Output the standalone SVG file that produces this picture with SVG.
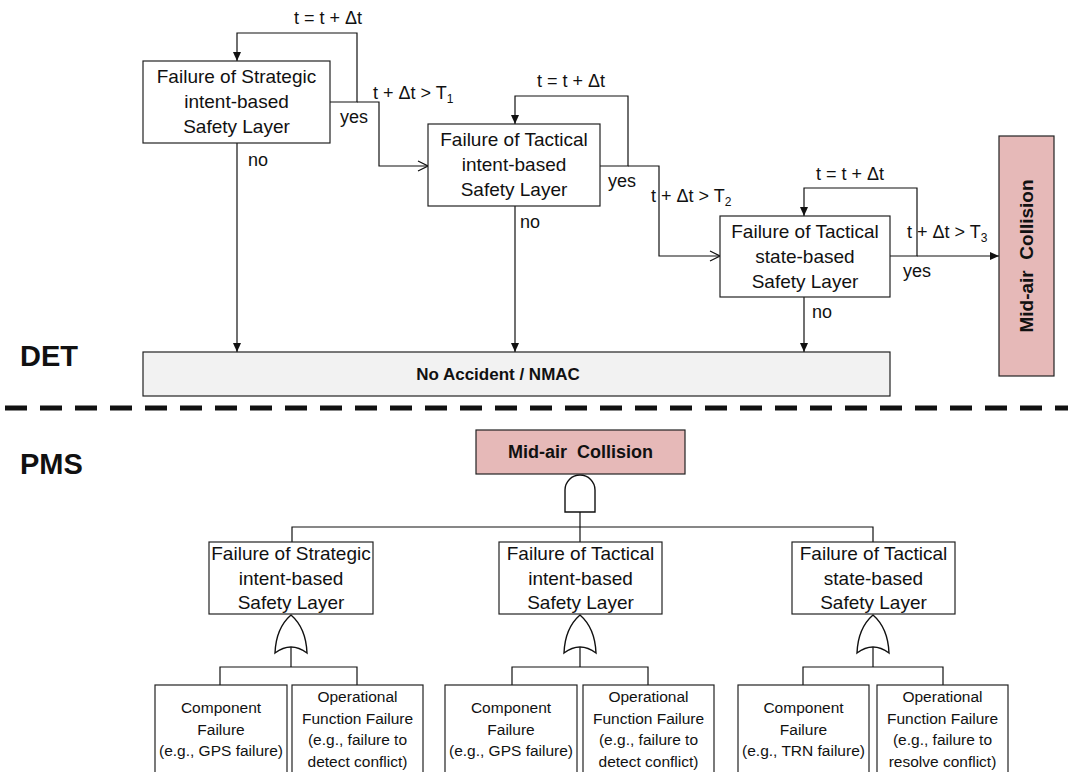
<svg xmlns="http://www.w3.org/2000/svg" width="1068" height="772" viewBox="0 0 1068 772">
  <style>
    .box { fill: #ffffff; stroke: #222; stroke-width: 1.2; }
    .top { fill: #e6b9b8; stroke: #222; stroke-width: 1.2; }
    .end { fill: #f2f2f2; stroke: #222; stroke-width: 1.2; }
    .ln { fill: none; stroke: #111; stroke-width: 1.2; }
    .gate { fill: #ffffff; stroke: #111; stroke-width: 1.4; }
    .t { font-family: "Liberation Sans", Arial, sans-serif; font-size: 19px; fill: #111; text-anchor: middle; }
    .lbl { font-family: "Liberation Sans", Arial, sans-serif; font-size: 18px; fill: #111; }
    .sub { font-size: 12px; }
    .leaf { font-family: "Liberation Sans", Arial, sans-serif; font-size: 15.5px; fill: #111; text-anchor: middle; }
    .b { font-family: "Liberation Sans", Arial, sans-serif; font-weight: bold; fill: #111; white-space: pre; }
  </style>
  <defs>
    <marker id="fill" markerWidth="10" markerHeight="10" refX="9" refY="5" orient="auto" markerUnits="userSpaceOnUse">
      <path d="M0,1 L9,5 L0,9 Z" fill="#111"/>
    </marker>
    <marker id="open" markerWidth="12" markerHeight="12" refX="11" refY="6" orient="auto" markerUnits="userSpaceOnUse">
      <path d="M1,1 L11,6 L1,11" fill="none" stroke="#111" stroke-width="1.2"/>
    </marker>
  </defs>

  <!-- section labels and divider -->
  <text class="b" x="20" y="366" font-size="29">DET</text>
  <text class="b" x="20" y="474" font-size="29">PMS</text>
  <line x1="5" y1="408" x2="1068" y2="408" stroke="#111" stroke-width="5" stroke-dasharray="22 13"/>

  <!-- event tree connectors -->
  <g id="det-connectors">
    <!-- strategic loop -->
    <path class="ln" d="M330,102 H357 V33 H237 V61" marker-end="url(#fill)"/>
    <path class="ln" d="M357,102 H379 V166 H428" marker-end="url(#open)"/>
    <line class="ln" x1="237" y1="143" x2="237" y2="352" marker-end="url(#fill)"/>
    <!-- tactical intent loop -->
    <path class="ln" d="M600,166 H628 V96 H515 V124" marker-end="url(#fill)"/>
    <path class="ln" d="M628,166 H659 V256 H720" marker-end="url(#open)"/>
    <line class="ln" x1="515" y1="206" x2="515" y2="352" marker-end="url(#fill)"/>
    <!-- tactical state loop -->
    <path class="ln" d="M890,256 H917 V188 H804 V216" marker-end="url(#fill)"/>
    <line class="ln" x1="917" y1="256" x2="999" y2="256" marker-end="url(#fill)"/>
    <line class="ln" x1="804" y1="297" x2="804" y2="352" marker-end="url(#fill)"/>

    <text class="lbl" x="328" y="24" text-anchor="middle">t = t + Δt</text>
    <text class="lbl" x="373" y="99">t + Δt &gt; T<tspan class="sub" dy="4">1</tspan></text>
    <text class="lbl" x="340" y="123">yes</text>
    <text class="lbl" x="248" y="166">no</text>

    <text class="lbl" x="571" y="87" text-anchor="middle">t = t + Δt</text>
    <text class="lbl" x="651" y="202">t + Δt &gt; T<tspan class="sub" dy="4">2</tspan></text>
    <text class="lbl" x="608" y="187">yes</text>
    <text class="lbl" x="520" y="228">no</text>

    <text class="lbl" x="850" y="180" text-anchor="middle">t = t + Δt</text>
    <text class="lbl" x="907" y="238">t + Δt &gt; T<tspan class="sub" dy="4">3</tspan></text>
    <text class="lbl" x="903" y="277">yes</text>
    <text class="lbl" x="812" y="318">no</text>
  </g>

  <!-- event tree nodes -->
  <g id="det-strategic">
    <rect class="box" x="143" y="61" width="187" height="82"/>
    <text class="t" x="236.5" y="83">Failure of Strategic</text>
    <text class="t" x="236.5" y="108">intent-based</text>
    <text class="t" x="236.5" y="133">Safety Layer</text>
  </g>
  <g id="det-tactical-intent">
    <rect class="box" x="428" y="124" width="172" height="82"/>
    <text class="t" x="514" y="146">Failure of Tactical</text>
    <text class="t" x="514" y="171">intent-based</text>
    <text class="t" x="514" y="196">Safety Layer</text>
  </g>
  <g id="det-tactical-state">
    <rect class="box" x="720" y="216" width="170" height="81"/>
    <text class="t" x="805" y="238">Failure of Tactical</text>
    <text class="t" x="805" y="263">state-based</text>
    <text class="t" x="805" y="288">Safety Layer</text>
  </g>
  <g id="det-collision">
    <rect class="top" x="999" y="136" width="55" height="240"/>
    <text class="b" x="0" y="0" font-size="19" text-anchor="middle" transform="translate(1033,256) rotate(-90)">Mid-air  Collision</text>
  </g>
  <g id="det-no-accident">
    <rect class="end" x="143" y="352" width="747" height="44"/>
    <text class="b" x="498" y="380" font-size="17" text-anchor="middle">No Accident / NMAC</text>
  </g>

  <!-- fault tree connectors and gates -->
  <g id="pms-connectors">
    <line class="ln" x1="580" y1="475" x2="580" y2="542"/>
    <path class="ln" d="M292,542 V527 H873 V542"/>
    <path class="gate" d="M565,512 V490 A15,15 0 0 1 595,490 V512 Z"/>

    <path class="ln" d="M291,645 V667 M220,685 V667 H357 V685"/>
    <path class="gate" d="M291,615 Q276,628 275,653 Q291,641 307,653 Q306,628 291,615 Z"/>

    <path class="ln" d="M580,645 V667 M512,685 V667 H648 V685"/>
    <path class="gate" d="M580,615 Q565,628 564,653 Q580,641 596,653 Q595,628 580,615 Z"/>

    <path class="ln" d="M873,645 V667 M803,685 V667 H943 V685"/>
    <path class="gate" d="M873,615 Q858,628 857,653 Q873,641 889,653 Q888,628 873,615 Z"/>
  </g>

  <!-- fault tree nodes -->
  <g id="pms-collision">
    <rect class="top" x="476" y="430" width="209" height="44"/>
    <text class="b" x="580.5" y="458" font-size="18" text-anchor="middle">Mid-air  Collision</text>
  </g>
  <g id="pms-strategic">
    <rect class="box" x="209" y="542" width="164" height="72"/>
    <text class="t" x="291" y="560">Failure of Strategic</text>
    <text class="t" x="291" y="584.5">intent-based</text>
    <text class="t" x="291" y="609">Safety Layer</text>
  </g>
  <g id="pms-tactical-intent">
    <rect class="box" x="499" y="542" width="163" height="72"/>
    <text class="t" x="580.5" y="560">Failure of Tactical</text>
    <text class="t" x="580.5" y="584.5">intent-based</text>
    <text class="t" x="580.5" y="609">Safety Layer</text>
  </g>
  <g id="pms-tactical-state">
    <rect class="box" x="792" y="542" width="163" height="72"/>
    <text class="t" x="873.5" y="560">Failure of Tactical</text>
    <text class="t" x="873.5" y="584.5">state-based</text>
    <text class="t" x="873.5" y="609">Safety Layer</text>
  </g>

  <g id="leaf-1a">
    <rect class="box" x="155" y="685" width="132" height="90"/>
    <text class="leaf" x="221" y="713">Component</text>
    <text class="leaf" x="221" y="735">Failure</text>
    <text class="leaf" x="221" y="756">(e.g., GPS failure)</text>
  </g>
  <g id="leaf-1b">
    <rect class="box" x="292" y="685" width="131" height="90"/>
    <text class="leaf" x="357.5" y="702">Operational</text>
    <text class="leaf" x="357.5" y="724">Function Failure</text>
    <text class="leaf" x="357.5" y="745">(e.g., failure to</text>
    <text class="leaf" x="357.5" y="767">detect conflict)</text>
  </g>
  <g id="leaf-2a">
    <rect class="box" x="445" y="685" width="132" height="90"/>
    <text class="leaf" x="511" y="713">Component</text>
    <text class="leaf" x="511" y="735">Failure</text>
    <text class="leaf" x="511" y="756">(e.g., GPS failure)</text>
  </g>
  <g id="leaf-2b">
    <rect class="box" x="583" y="685" width="131" height="90"/>
    <text class="leaf" x="648.5" y="702">Operational</text>
    <text class="leaf" x="648.5" y="724">Function Failure</text>
    <text class="leaf" x="648.5" y="745">(e.g., failure to</text>
    <text class="leaf" x="648.5" y="767">detect conflict)</text>
  </g>
  <g id="leaf-3a">
    <rect class="box" x="738" y="685" width="131" height="90"/>
    <text class="leaf" x="803.5" y="713">Component</text>
    <text class="leaf" x="803.5" y="735">Failure</text>
    <text class="leaf" x="803.5" y="756">(e.g., TRN failure)</text>
  </g>
  <g id="leaf-3b">
    <rect class="box" x="877" y="685" width="131" height="90"/>
    <text class="leaf" x="942.5" y="702">Operational</text>
    <text class="leaf" x="942.5" y="724">Function Failure</text>
    <text class="leaf" x="942.5" y="745">(e.g., failure to</text>
    <text class="leaf" x="942.5" y="767">resolve conflict)</text>
  </g>
</svg>
